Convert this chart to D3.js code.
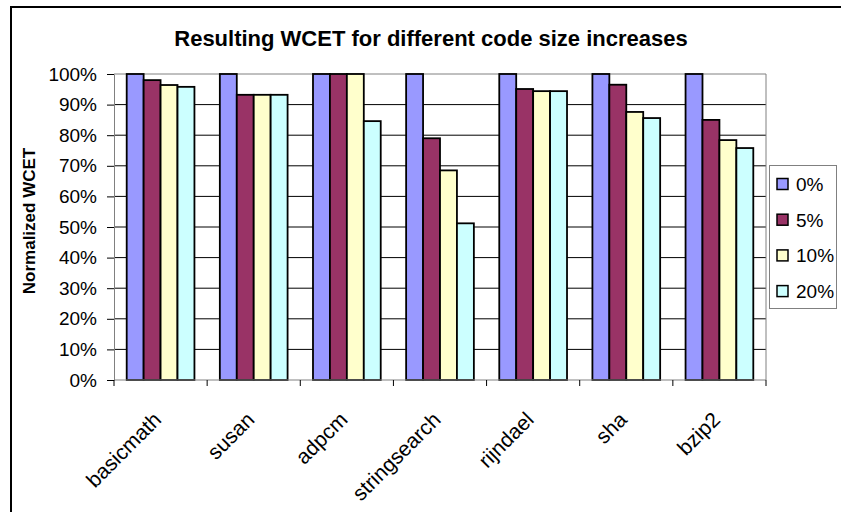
<!DOCTYPE html>
<html>
<head>
<meta charset="utf-8">
<script src="https://cdn.jsdelivr.net/npm/d3@7"></script>
<style>
  html, body { margin: 0; padding: 0; background: #fff; }
  svg { display: block; font-family: Arial, "Liberation Sans", sans-serif; }
</style>
</head>
<body>
<svg id="chart" width="841" height="512"></svg>
<script>
// Benchmarks on the x axis
const categories = ["basicmath", "susan", "adpcm", "stringsearch", "rijndael", "sha", "bzip2"];
// Code size increase series
const seriesNames = ["0%", "5%", "10%", "20%"];
const seriesColors = ["#9999FF", "#993366", "#FFFFCC", "#CCFFFF"];
// Normalized WCET (%) per benchmark, one array per series
const wcet0 = [100, 100, 100, 100, 100, 100, 100];
const wcet5 = [98.0, 93.2, 100, 79.0, 95.1, 96.5, 85.0];
const wcet10 = [96.4, 93.2, 100, 68.5, 94.4, 87.6, 78.4];
const wcet20 = [95.8, 93.2, 84.6, 51.2, 94.4, 85.6, 75.8];
const yTicks = [0, 10, 20, 30, 40, 50, 60, 70, 80, 90, 100];

const seriesValues = [wcet0, wcet5, wcet10, wcet20];

const svg = d3.select("#chart");
const plot = { left: 114, right: 766, top: 74, bottom: 380 };

// Outer chart frame (left and top edges)
svg.append("path")
  .attr("d", "M11,512 V7 H841")
  .attr("fill", "none").attr("stroke", "#000").attr("stroke-width", 2);

// Title
svg.append("text")
  .attr("x", 431).attr("y", 46)
  .attr("text-anchor", "middle")
  .attr("font-size", 22).attr("font-weight", "bold")
  .text("Resulting WCET for different code size increases");

const x = d3.scaleBand()
  .domain(categories)
  .range([plot.left, plot.right])
  .paddingInner(1.5 / 5.5)
  .paddingOuter(0.75 / 5.5);

const xs = d3.scaleBand()
  .domain(seriesNames)
  .range([0, x.bandwidth()]);

const y = d3.scaleLinear().domain([0, 100]).range([plot.bottom, plot.top]);

// Horizontal gridlines
svg.append("g")
  .selectAll("line")
  .data(yTicks.filter(d => d > 0))
  .join("line")
  .attr("x1", plot.left).attr("x2", plot.right)
  .attr("y1", d => y(d)).attr("y2", d => y(d))
  .attr("stroke", d => d === 100 ? "#808080" : "#000")
  .attr("stroke-width", 1);

// Right plot edge
svg.append("line")
  .attr("x1", plot.right).attr("x2", plot.right)
  .attr("y1", plot.top).attr("y2", plot.bottom)
  .attr("stroke", "#808080");

// Bars
const groups = svg.append("g")
  .selectAll("g")
  .data(categories)
  .join("g")
  .attr("transform", d => `translate(${x(d)},0)`);

groups.selectAll("rect")
  .data((c, i) => seriesNames.map((s, k) => ({ s, k, v: seriesValues[k][i] })))
  .join("rect")
  .attr("x", d => xs(d.s))
  .attr("width", xs.bandwidth())
  .attr("y", d => y(d.v))
  .attr("height", d => y(0) - y(d.v))
  .attr("fill", d => seriesColors[d.k])
  .attr("stroke", "#000")
  .attr("stroke-width", 1.8);

// Y axis
const yAxis = svg.append("g")
  .attr("transform", `translate(${plot.left},0)`)
  .call(d3.axisLeft(y).tickValues(yTicks).tickFormat(d => d + "%").tickSize(7).tickPadding(10).tickSizeOuter(0));
yAxis.select(".domain").attr("stroke", "#808080");
yAxis.selectAll(".tick line").attr("stroke", "#000");
yAxis.selectAll("text").attr("font-size", 19).attr("font-family", "Arial, 'Liberation Sans', sans-serif").attr("fill", "#000");

// X axis with ticks at category boundaries
const xAxis = svg.append("g").attr("transform", `translate(0,${plot.bottom})`);
xAxis.append("line")
  .attr("x1", plot.left).attr("x2", plot.right)
  .attr("stroke", "#808080");
const step = x.step();
xAxis.selectAll("line.tick")
  .data(d3.range(categories.length + 1))
  .join("line")
  .attr("class", "tick")
  .attr("x1", i => plot.left + i * step).attr("x2", i => plot.left + i * step)
  .attr("y1", 0).attr("y2", 6)
  .attr("stroke", "#000");
xAxis.selectAll("text")
  .data(categories)
  .join("text")
  .attr("transform", d => `translate(${x(d) + x.bandwidth() / 2 + 2},41) rotate(-45)`)
  .attr("text-anchor", "end")
  .attr("font-size", 21)
  .text(d => d);

// Y axis title
svg.append("text")
  .attr("transform", "translate(35,221) rotate(-90)")
  .attr("text-anchor", "middle")
  .attr("font-size", 17).attr("font-weight", "bold")
  .text("Normalized WCET");

// Legend
const legend = svg.append("g");
legend.append("rect")
  .attr("x", 769.5).attr("y", 165.5).attr("width", 67).attr("height", 143)
  .attr("fill", "#fff").attr("stroke", "#808080");
const rows = legend.selectAll("g.row")
  .data(seriesNames)
  .join("g")
  .attr("class", "row")
  .attr("transform", (d, i) => `translate(777,${184 + i * 35.7})`);
rows.append("rect")
  .attr("x", 0).attr("y", -5.5).attr("width", 11).attr("height", 11)
  .attr("fill", (d, i) => seriesColors[i])
  .attr("stroke", "#000").attr("stroke-width", 1.5);
rows.append("text")
  .attr("x", 19).attr("dy", "0.36em")
  .attr("font-size", 19)
  .text(d => d);
</script>
</body>
</html>
